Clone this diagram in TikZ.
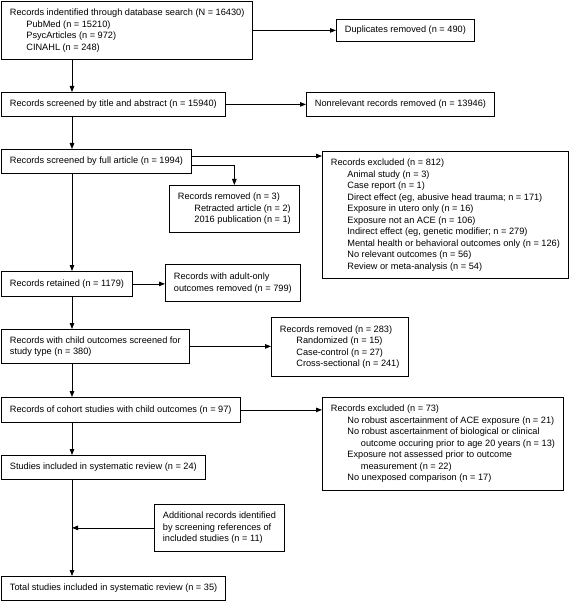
\documentclass[tikz,border=0pt]{standalone}
\usepackage{fontspec}
\setmainfont{Liberation Sans}
\usetikzlibrary{arrows.meta}

\tikzset{
  flowbox/.style={draw, line width=0.8pt, anchor=north west, align=left,
    inner xsep=8.5pt, inner ysep=5pt, font=\fontsize{9.2}{11.5}\selectfont},
  flowarrow/.style={line width=0.8pt, -{Triangle[length=6pt,width=4.5pt]}}
}
\newcommand{\indone}{\hspace*{16.5pt}}
\newcommand{\indtwo}{\hspace*{30pt}}

\begin{document}
\begin{tikzpicture}[x=1pt,y=-1pt]
       \useasboundingbox (0,0) rectangle (568,601);
       \coordinate (spine) at (72,0);

       % main column
       \node(search)[flowbox, minimum height=58pt] at (1,1) {Records indentified through database search (N = 16430)\\
         \indone PubMed (n = 15210)\\ \indone PsycArticles (n = 972)\\ \indone CINAHL (n = 248)};
       \node(screen)[flowbox, minimum height=24pt] at (1,92) {Records screened by title and abstract (n = 15940)};
       \node(full)[flowbox, minimum height=24pt] at (1,149) {Records screened by full article (n = 1994)};
       \node(retained)[flowbox, minimum height=25pt] at (1,271) {Records retained (n = 1179)};
       \node(child)[flowbox, minimum height=34pt] at (1,329) {Records with child outcomes screened for\\ study type (n = 380)};
       \node(cohort)[flowbox, minimum height=25pt] at (1,397) {Records of cohort studies with child outcomes (n = 97)};
       \node(included)[flowbox, minimum height=24pt] at (1,455) {Studies included in systematic review (n = 24)};
       \node(total)[flowbox, minimum height=24pt] at (1,576) {Total studies included in systematic review (n = 35)};

       % side boxes
       \node(dup)[flowbox, minimum height=22pt] at (336,19) {Duplicates removed (n = 490)};
       \node(nonrel)[flowbox, minimum height=24pt] at (306,92) {Nonrelevant records removed (n = 13946)};
       \node(excl)[flowbox, minimum height=127pt] at (322,151) {Records excluded (n = 812)\\
         \indone Animal study (n = 3)\\ \indone Case report (n = 1)\\
         \indone Direct effect (eg, abusive head trauma; n = 171)\\
         \indone Exposure in utero only (n = 16)\\ \indone Exposure not an ACE (n = 106)\\
         \indone Indirect effect (eg, genetic modifier; n = 279)\\
         \indone Mental health or behavioral outcomes only (n = 126)\\
         \indone No relevant outcomes (n = 56)\\ \indone Review or meta-analysis (n = 54)};
       \node(removed)[flowbox, minimum height=47pt] at (169,185) {Records removed (n = 3)\\
         \indone Retracted article (n = 2)\\ \indone 2016 publication (n = 1)};
       \node(adult)[flowbox, minimum height=37pt] at (165,264) {Records with adult-only\\ outcomes removed (n = 799)};
       \node(design)[flowbox, minimum height=59pt] at (271,317) {Records removed (n = 283)\\
         \indone Randomized (n = 15)\\ \indone Case-control (n = 27)\\ \indone Cross-sectional (n = 241)};
       \node(cohortex)[flowbox, minimum height=93pt] at (322,397) {Records excluded (n = 73)\\
         \indone No robust ascertainment of ACE exposure (n = 21)\\
         \indone No robust ascertainment of biological or clinical\\
         \indtwo outcome occuring prior to age 20 years (n = 13)\\
         \indone Exposure not assessed prior to outcome\\
         \indtwo measurement (n = 22)\\
         \indone No unexposed comparison (n = 17)};
       \node(extra)[flowbox, minimum height=47pt] at (154,504) {Additional records identified\\
         by screening references of\\ included studies (n = 11)};

       % connectors
       \draw[flowarrow] (search.south -| spine) -- (screen.north -| spine);
       \draw[flowarrow] (screen.south -| spine) -- (full.north -| spine);
       \draw[flowarrow] (full.south -| spine) -- (retained.north -| spine);
       \draw[flowarrow] (retained.south -| spine) -- (child.north -| spine);
       \draw[flowarrow] (child.south -| spine) -- (cohort.north -| spine);
       \draw[flowarrow] (cohort.south -| spine) -- (included.north -| spine);
       \draw[flowarrow] (included.south -| spine) -- (total.north -| spine);

       \draw[flowarrow] (search.east) -- (search.east -| dup.west);
       \draw[flowarrow] (screen.east) -- (screen.east -| nonrel.west);
       \draw[flowarrow] ([yshift=-7pt]full.north east) -- ([yshift=-7pt]full.north east -| excl.west);
       \draw[flowarrow] ([yshift=-16pt]full.north east) -| (removed.north);
       \draw[flowarrow] (retained.east) -- (retained.east -| adult.west);
       \draw[flowarrow] (child.east) -- (child.east -| design.west);
       \draw[flowarrow] (cohort.east) -- (cohort.east -| cohortex.west);
       \draw[flowarrow] (extra.west) -- (extra.west -| spine);
\end{tikzpicture}
\end{document}
